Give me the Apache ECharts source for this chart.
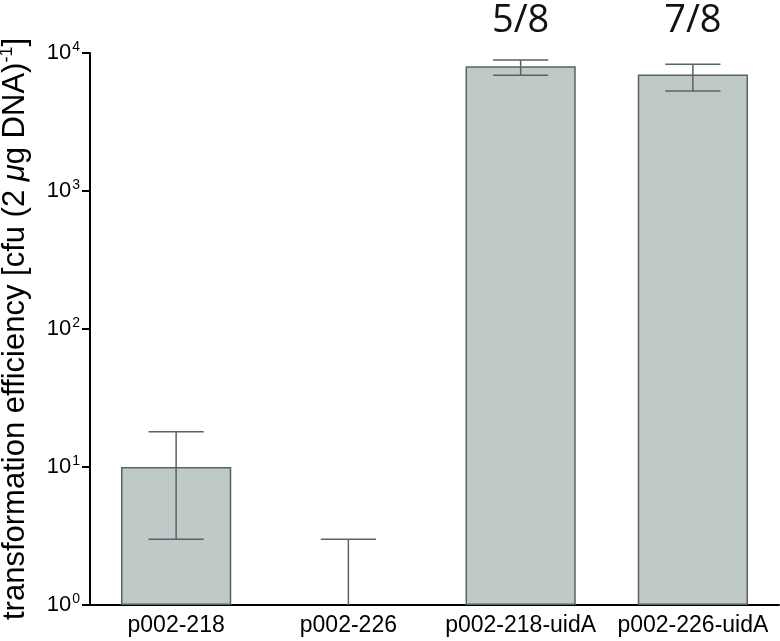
<!DOCTYPE html>
<html>
<head>
<meta charset="utf-8">
<script src="https://cdn.jsdelivr.net/npm/echarts@6/dist/echarts.min.js"></script>
<style>
	html, body { margin: 0; padding: 0; background: #fff; }
	#chart { width: 780px; height: 641px; }
</style>
</head>
<body>
<div id="chart"></div>
<script>
	// values
	var categories = ['p002-218', 'p002-226', 'p002-218-uidA', 'p002-226-uidA'];
	var efficiency = [10, '-', 8000, 7000];
	var errLow = [3, 1, 6900, 5300];
	var errHigh = [18, 3, 8900, 8300];
	var ratios = ['', '', '5/8', '7/8'];

	var barFill = '#bfc9c8';
	var barEdge = '#5a6262';

	var chart = echarts.init(document.getElementById('chart'));

	var errData = categories.map(function (c, i) {
		return [i, errLow[i], errHigh[i]];
	});
	var ratioData = categories.map(function (c, i) {
		return [i, 10000, ratios[i]];
	});

	chart.setOption({
		animation: false,
		grid: {
			left: 90,
			right: 1,
			top: 53,
			bottom: 36,
			outerBoundsMode: 'none'
		},
		xAxis: {
			type: 'category',
			data: categories,
			axisLine: { lineStyle: { color: '#000', width: 2 } },
			axisTick: { show: false },
			axisLabel: {
				interval: 0,
				hideOverlap: false,
				color: '#000',
				fontSize: 23,
				fontFamily: 'Liberation Sans',
				margin: 9
			}
		},
		yAxis: {
			type: 'log',
			logBase: 10,
			min: 1,
			max: 10000,
			splitLine: { show: false },
			axisLine: { show: true, lineStyle: { color: '#000', width: 2 } },
			axisTick: { show: true, length: 8, lineStyle: { color: '#000', width: 2 } },
			axisLabel: {
				margin: 10,
				color: '#000',
				fontSize: 22,
				fontFamily: 'Liberation Sans',
				formatter: function (v) {
					return '10{s|' + Math.round(Math.log10(v)) + '}';
				},
				rich: {
					s: { fontSize: 14, color: '#000', fontFamily: 'Liberation Sans', padding: [0, 0, 12, 1] }
				}
			},
			name: 'transformation efficiency [cfu (2 {i|μ}g DNA){s|-1}]',
			nameLocation: 'middle',
			nameGap: 58,
			nameTextStyle: {
				color: '#000',
				fontSize: 31,
				fontFamily: 'Liberation Sans',
				rich: {
					i: { fontSize: 31, color: '#000', fontFamily: 'Liberation Sans', fontStyle: 'italic' },
					s: { fontSize: 18, color: '#000', fontFamily: 'Liberation Sans', padding: [0, 0, 16, 0] }
				}
			}
		},
		series: [{
			name: 'efficiency',
			type: 'bar',
			data: efficiency,
			barWidth: '64%',
			itemStyle: {
				color: barFill,
				borderColor: barEdge,
				borderWidth: 1.5
			},
			z: 2
		}, {
			name: 'error',
			type: 'custom',
			data: errData,
			z: 3,
			renderItem: function (params, api) {
				var i = api.value(0);
				var lo = api.coord([i, api.value(1)]);
				var hi = api.coord([i, api.value(2)]);
				var half = api.size([1, 0])[0] * 0.16;
				var st = { stroke: barEdge, lineWidth: 1.5 };
				var children = [
					{ type: 'line', shape: { x1: lo[0], y1: lo[1], x2: hi[0], y2: hi[1] }, style: st },
					{ type: 'line', shape: { x1: hi[0] - half, y1: hi[1], x2: hi[0] + half, y2: hi[1] }, style: st }
				];
				if (api.value(1) > 1) {
					children.push({ type: 'line', shape: { x1: lo[0] - half, y1: lo[1], x2: lo[0] + half, y2: lo[1] }, style: st });
				}
				return { type: 'group', children: children };
			}
		}, {
			name: 'ratio',
			type: 'custom',
			data: ratioData,
			clip: false,
			z: 4,
			renderItem: function (params, api) {
				var p = api.coord([api.value(0), api.value(1)]);
				return {
					type: 'text',
					style: {
						text: ratios[params.dataIndex],
						x: p[0],
						y: p[1] - 32,
						align: 'center',
						verticalAlign: 'middle',
						fontSize: 38,
						fontFamily: 'Open Sans',
						fill: '#111'
					}
				};
			}
		}]
	});
</script>
</body>
</html>
